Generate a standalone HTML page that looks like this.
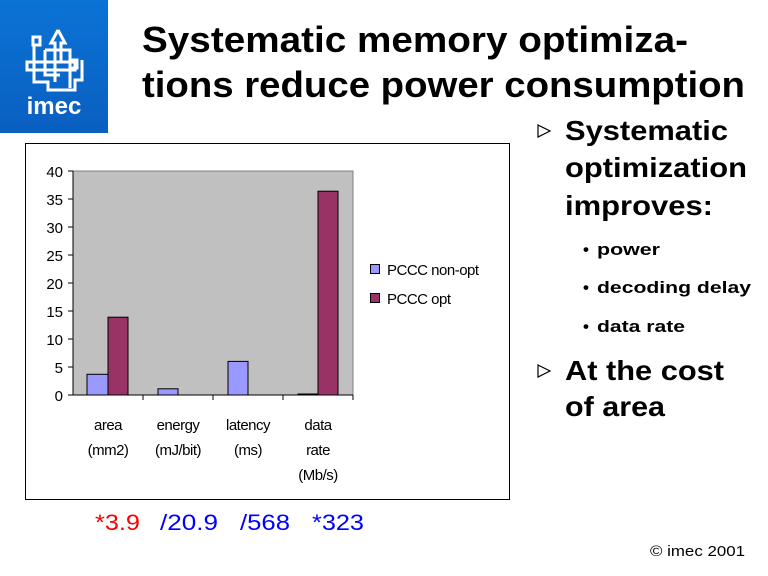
<!DOCTYPE html>
<html><head><meta charset="utf-8"><style>
html,body{margin:0;padding:0;background:#fff;width:768px;height:576px;overflow:hidden}
svg{display:block;font-family:"Liberation Sans",Arial,sans-serif}
</style></head><body>
<svg width="768" height="576" viewBox="0 0 768 576" xmlns="http://www.w3.org/2000/svg">
<defs><linearGradient id="g" x1="0" y1="0" x2="0" y2="1"><stop offset="0" stop-color="#0b73d6"/><stop offset="1" stop-color="#0a5fc0"/></linearGradient></defs>
<rect x="0" y="0" width="108" height="133" fill="url(#g)"/>
<g fill="none" stroke="#fff" stroke-width="3">
<rect x="33" y="37" width="7" height="8"/>
<path d="M34 45 V82 H48 V90 H75 V80 H82 V60"/>
<path d="M58 30 L51 43 H55 V82 M58 30 L65 43 H61 V62"/>
<rect x="27" y="62" width="48" height="8"/>
<rect x="70" y="60" width="7" height="8"/>
<path d="M45 50 H70 V88 M45 50 V75 H60"/>
</g>
<text x="54" y="114" font-size="24" font-weight="bold" fill="#fff" text-anchor="middle">imec</text>

<text x="142" y="52" font-size="36" font-weight="bold" textLength="546" lengthAdjust="spacingAndGlyphs">Systematic memory optimiza-</text>
<text x="142" y="97" font-size="36" font-weight="bold" textLength="603" lengthAdjust="spacingAndGlyphs">tions reduce power consumption</text>

<g font-size="28" font-weight="bold">
<text x="565" y="140" textLength="163" lengthAdjust="spacingAndGlyphs">Systematic</text>
<text x="565" y="177" textLength="182" lengthAdjust="spacingAndGlyphs">optimization</text>
<text x="565" y="215" textLength="148" lengthAdjust="spacingAndGlyphs">improves:</text>
<text x="565" y="380" textLength="159" lengthAdjust="spacingAndGlyphs">At the cost</text>
<text x="565" y="416" textLength="100" lengthAdjust="spacingAndGlyphs">of area</text>
</g>
<path d="M538 125 L550 131 L538 137 Z M538 365 L550 371 L538 377 Z" fill="none" stroke="#000" stroke-width="1.2"/>
<g font-size="17" font-weight="bold">
<text x="583" y="255">•</text><text x="597" y="255" textLength="63" lengthAdjust="spacingAndGlyphs">power</text>
<text x="583" y="293">•</text><text x="597" y="293" textLength="154" lengthAdjust="spacingAndGlyphs">decoding delay</text>
<text x="583" y="332">•</text><text x="597" y="332" textLength="88" lengthAdjust="spacingAndGlyphs">data rate</text>
</g>

<rect x="25.5" y="143.5" width="484" height="356" fill="#fff" stroke="#000"/>
<rect x="73" y="171" width="280" height="224" fill="#c0c0c0" stroke="#808080"/>
<line x1="73" y1="171" x2="73" y2="395" stroke="#000"/>
<line x1="68" y1="395" x2="353" y2="395" stroke="#000"/>
<g stroke="#000">
<line x1="68" y1="171" x2="73" y2="171"/><line x1="68" y1="199" x2="73" y2="199"/><line x1="68" y1="227" x2="73" y2="227"/><line x1="68" y1="255" x2="73" y2="255"/><line x1="68" y1="283" x2="73" y2="283"/><line x1="68" y1="311" x2="73" y2="311"/><line x1="68" y1="339" x2="73" y2="339"/><line x1="68" y1="367" x2="73" y2="367"/>
<line x1="143" y1="395" x2="143" y2="400"/><line x1="213" y1="395" x2="213" y2="400"/><line x1="283" y1="395" x2="283" y2="400"/><line x1="353" y1="395" x2="353" y2="400"/>
</g>
<g font-size="15" text-anchor="end">
<text x="63" y="177">40</text><text x="63" y="205">35</text><text x="63" y="233">30</text><text x="63" y="261">25</text><text x="63" y="289">20</text><text x="63" y="317">15</text><text x="63" y="345">10</text><text x="63" y="373">5</text><text x="63" y="401">0</text>
</g>
<g stroke="#000" stroke-width="1">
<rect x="87" y="374.3" width="21" height="20.7" fill="#9999ff"/>
<rect x="108" y="317.2" width="20" height="77.8" fill="#993366"/>
<rect x="158" y="388.8" width="20" height="6.2" fill="#9999ff"/>
<rect x="228" y="361.4" width="20" height="33.6" fill="#9999ff"/>
<rect x="298" y="394" width="20" height="1" fill="#9999ff"/>
<rect x="318" y="191.2" width="20" height="203.8" fill="#993366"/>
</g>
<g font-size="15" text-anchor="middle" letter-spacing="-0.5">
<text x="108" y="430">area</text><text x="108" y="455">(mm2)</text>
<text x="178" y="430">energy</text><text x="178" y="455">(mJ/bit)</text>
<text x="248" y="430">latency</text><text x="248" y="455">(ms)</text>
<text x="318" y="430">data</text><text x="318" y="455">rate</text><text x="318" y="480">(Mb/s)</text>
</g>
<rect x="370.5" y="264.5" width="9" height="9" fill="#9999ff" stroke="#000"/>
<rect x="370.5" y="293.5" width="9" height="9" fill="#993366" stroke="#000"/>
<g font-size="15" letter-spacing="-0.5">
<text x="387" y="275">PCCC non-opt</text>
<text x="387" y="304">PCCC opt</text>
</g>

<g font-size="22">
<text x="95" y="530" fill="#ff0000" textLength="45" lengthAdjust="spacingAndGlyphs">*3.9</text>
<text x="160" y="530" fill="#0000ff" textLength="58" lengthAdjust="spacingAndGlyphs">/20.9</text>
<text x="240" y="530" fill="#0000ff" textLength="50" lengthAdjust="spacingAndGlyphs">/568</text>
<text x="312" y="530" fill="#0000ff" textLength="52" lengthAdjust="spacingAndGlyphs">*323</text>
</g>
<text x="650" y="556" font-size="15" textLength="95" lengthAdjust="spacingAndGlyphs">© imec 2001</text>
</svg>
</body></html>
